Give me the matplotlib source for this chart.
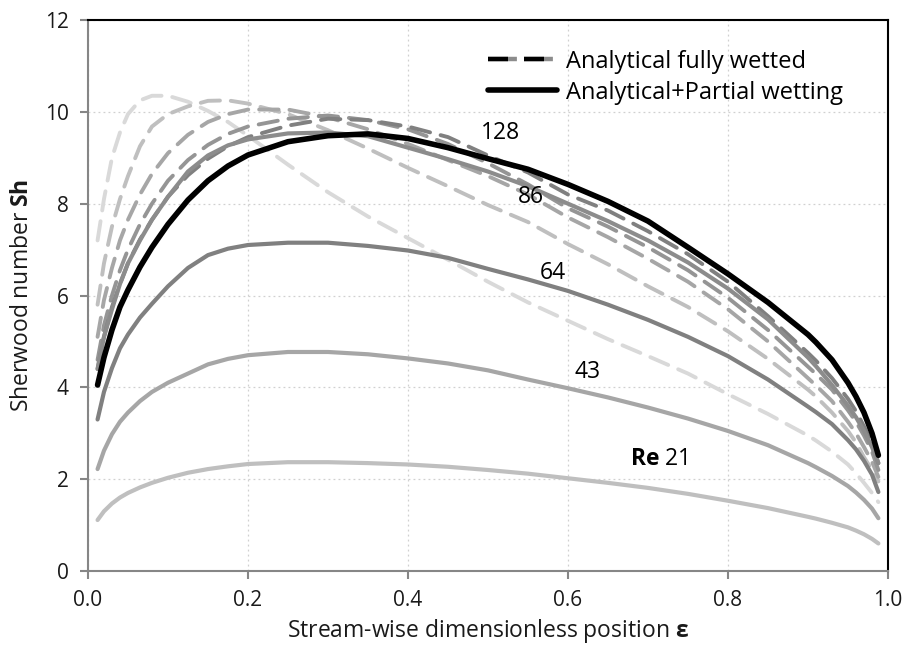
import numpy as np
import matplotlib
matplotlib.use("Agg")
import matplotlib.pyplot as plt
from matplotlib.lines import Line2D
from matplotlib.legend_handler import HandlerTuple

plt.rcParams['font.family'] = ['Open Sans', 'DejaVu Sans']
plt.rcParams['mathtext.fontset'] = 'custom'
plt.rcParams['mathtext.rm'] = 'Open Sans'
plt.rcParams['mathtext.bf'] = 'Open Sans:bold'

# stream-wise position
eps = [0.012, 0.02, 0.03, 0.04, 0.05, 0.065, 0.08, 0.1, 0.125, 0.15, 0.175, 0.2,
       0.25, 0.3, 0.35, 0.4, 0.45, 0.5, 0.55, 0.6, 0.65, 0.7, 0.75, 0.8, 0.85,
       0.9, 0.91, 0.93, 0.95, 0.96, 0.97, 0.98, 0.988]

# analytical + partial wetting (solid)
sh_pw_21 = [1.11, 1.3, 1.47, 1.6, 1.7, 1.82, 1.92, 2.03, 2.14, 2.22, 2.28, 2.33,
            2.37, 2.37, 2.35, 2.32, 2.27, 2.2, 2.12, 2.02, 1.92, 1.81, 1.68, 1.53, 1.37,
            1.18, 1.14, 1.05, 0.95, 0.88, 0.8, 0.7, 0.6]
sh_pw_43 = [2.22, 2.62, 2.98, 3.25, 3.45, 3.7, 3.9, 4.1, 4.3, 4.5, 4.62, 4.7,
            4.77, 4.77, 4.72, 4.63, 4.52, 4.37, 4.17, 3.98, 3.78, 3.56, 3.32, 3.05, 2.74,
            2.35, 2.26, 2.07, 1.85, 1.71, 1.55, 1.36, 1.15]
sh_pw_64 = [3.3, 3.9, 4.42, 4.85, 5.15, 5.52, 5.82, 6.2, 6.6, 6.88, 7.02, 7.1,
            7.15, 7.15, 7.08, 6.98, 6.82, 6.58, 6.35, 6.1, 5.8, 5.47, 5.1, 4.68, 4.17,
            3.58, 3.46, 3.2, 2.85, 2.65, 2.4, 2.1, 1.72]
sh_pw_86 = [4.4, 5.1, 5.7, 6.25, 6.7, 7.2, 7.65, 8.15, 8.7, 9.05, 9.27, 9.4,
            9.53, 9.55, 9.47, 9.22, 8.97, 8.7, 8.38, 8.0, 7.62, 7.2, 6.72, 6.15, 5.48,
            4.65, 4.46, 4.05, 3.6, 3.35, 3.05, 2.7, 2.35]
sh_pw_128 = [4.05, 4.65, 5.25, 5.75, 6.12, 6.62, 7.05, 7.55, 8.08, 8.5, 8.82, 9.06,
             9.35, 9.48, 9.52, 9.42, 9.22, 8.98, 8.75, 8.42, 8.05, 7.62, 7.05, 6.47, 5.85,
             5.15, 4.98, 4.6, 4.1, 3.8, 3.45, 3.0, 2.52]

# analytical fully wetted (dashed)
sh_fw_21 = [7.2, 8.1, 9.0, 9.55, 9.95, 10.25, 10.35, 10.35, 10.22, 10.02, 9.78, 9.48,
            8.85, 8.25, 7.72, 7.25, 6.78, 6.3, 5.85, 5.45, 5.05, 4.68, 4.3, 3.85, 3.42,
            2.95, 2.84, 2.6, 2.32, 2.13, 1.92, 1.7, 1.5]
sh_fw_43 = [5.8, 6.7, 7.5, 8.1, 8.6, 9.25, 9.68, 9.95, 10.12, 10.24, 10.25, 10.18,
            9.95, 9.6, 9.2, 8.78, 8.38, 7.97, 7.6, 7.12, 6.68, 6.2, 5.75, 5.22, 4.62,
            3.95, 3.8, 3.45, 3.05, 2.8, 2.48, 2.2, 1.95]
sh_fw_64 = [5.1, 5.9, 6.6, 7.2, 7.65, 8.2, 8.65, 9.1, 9.5, 9.78, 9.95, 10.05,
            10.05, 9.88, 9.62, 9.3, 8.95, 8.6, 8.2, 7.7, 7.27, 6.8, 6.3, 5.7, 5.0,
            4.2, 4.04, 3.7, 3.25, 3.0, 2.7, 2.38, 2.05]
sh_fw_86 = [4.6, 5.35, 6.0, 6.55, 7.0, 7.55, 8.0, 8.5, 8.95, 9.28, 9.52, 9.68,
            9.85, 9.92, 9.82, 9.62, 9.3, 8.88, 8.42, 7.9, 7.5, 7.05, 6.55, 5.95, 5.25,
            4.45, 4.29, 3.95, 3.5, 3.25, 2.95, 2.6, 2.2]
sh_fw_128 = [4.4, 5.1, 5.75, 6.25, 6.7, 7.22, 7.65, 8.15, 8.62, 8.98, 9.25, 9.45,
             9.7, 9.85, 9.82, 9.68, 9.45, 9.05, 8.68, 8.2, 7.85, 7.4, 6.9, 6.3, 5.55,
             4.75, 4.58, 4.2, 3.75, 3.48, 3.15, 2.78, 2.35]

re_labels = ["$\\mathbf{Re}$ 21", "43", "64", "86", "128"]
label_pos = [(0.714, 2.44), (0.624, 4.33), (0.581, 6.49), (0.554, 8.14), (0.516, 9.54)]

fw_series = [sh_fw_21, sh_fw_43, sh_fw_64, sh_fw_86, sh_fw_128]
fw_colors = ['#d9d9d9', '#bfbfbf', '#a6a6a6', '#959595', '#808080']
pw_series = [sh_pw_21, sh_pw_43, sh_pw_64, sh_pw_86, sh_pw_128]
pw_colors = ['#bfbfbf', '#a6a6a6', '#808080', '#8c8c8c', '#000000']

fig = plt.figure(figsize=(9.05, 6.54), dpi=100)
ax = fig.add_axes([0.0972, 0.1269, 0.884, 0.8425])

for y, c in zip(fw_series, fw_colors):
    ax.plot(eps, y, color=c, lw=2.8, dashes=(5.0, 2.8), solid_capstyle='round',
            dash_capstyle='round', zorder=3)
for y, c in zip(pw_series, pw_colors):
    ax.plot(eps, y, color=c, lw=4.0 if c == '#000000' else 3.0,
            solid_capstyle='round', solid_joinstyle='round',
            zorder=5 if c == '#000000' else 4)

for txt, (xx, yy) in zip(re_labels, label_pos):
    ax.text(xx, yy, txt, fontsize=16.5, ha='center', va='center', zorder=6)

ax.set_xlim(0, 1)
ax.set_ylim(0, 12)
ax.set_xticks(np.arange(0, 1.01, 0.2))
ax.set_xticklabels([f"{v:.1f}" for v in np.arange(0, 1.01, 0.2)])
ax.set_yticks(np.arange(0, 13, 2))
ax.grid(True, color='#d0d0d0', linestyle=(0, (1.5, 2.5)), linewidth=0.9)
ax.set_axisbelow(True)

for s in ['left', 'bottom']:
    ax.spines[s].set_color('#868686')
    ax.spines[s].set_linewidth(1.5)
for s in ['top', 'right']:
    ax.spines[s].set_color('black')
    ax.spines[s].set_linewidth(1.5)
ax.tick_params(direction='out', length=6, width=1.5, color='#868686',
               labelsize=15, pad=8, labelcolor='#1a1a1a')

ax.set_xlabel("Stream-wise dimensionless position $\\mathbf{ε}$", fontsize=16.5,
              labelpad=4, color='#1a1a1a')
ax.set_ylabel("Sherwood number $\\mathbf{Sh}$", fontsize=16.5, labelpad=8, color='#1a1a1a')

# legend: dashed black/gray and solid black
fw_gray = Line2D([], [], color='#8c8c8c', lw=3.2, dashes=(6.5, 1.6))
fw_black = Line2D([], [], color='black', lw=3.2, dashes=(4.5, 3.6))
pw_line = Line2D([], [], color='black', lw=4.0, solid_capstyle='round')
ax.legend([(fw_gray, fw_black), pw_line],
          ["Analytical fully wetted", "Analytical+Partial wetting"],
          handler_map={tuple: HandlerTuple(ndivide=1)},
          loc='upper left', bbox_to_anchor=(0.474, 0.985), frameon=False,
          fontsize=17, handlelength=2.9, handletextpad=0.4, labelspacing=0.3)

fig.savefig("out.png", dpi=100)
